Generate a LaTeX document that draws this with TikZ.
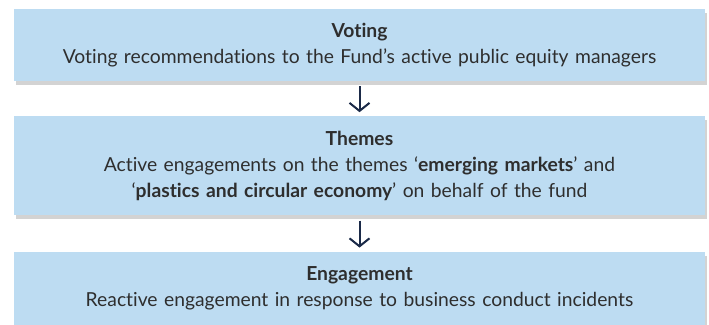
\documentclass[tikz,border=0pt]{standalone}
\usepackage{fontspec}
\setmainfont{Lato}[Ligatures={NoCommon}]
\usetikzlibrary{positioning,shadows,arrows.meta}
\definecolor{boxblue}{HTML}{BDDCF2}
\definecolor{textgray}{HTML}{2E2E2E}
\definecolor{arrownavy}{HTML}{1B2A48}
\begin{document}
\begin{tikzpicture}[x=1pt, y=1pt, font=\fontsize{19.3}{26}\selectfont]
    \tikzset{
      stage/.style={fill=boxblue, minimum width=691pt, text width=670pt,
        align=center, text=textgray, inner sep=0pt,
        drop shadow={shadow xshift=2pt, shadow yshift=-4pt, opacity=0.35, fill=gray}},
      flow/.style={draw=arrownavy, line width=2pt,
        -{Straight Barb[length=8pt, width=20pt, line width=2pt]}}
    }
    % Canvas
    \useasboundingbox (0,0) rectangle (709,-324);
    % Stages
    \node[stage, minimum height=72pt] (voting) at (359.5,-45)
      {\textbf{Voting}\\Voting recommendations to the Fund’s active public equity managers};
    \node[stage, minimum height=99pt, below=35pt of voting] (themes)
      {\textbf{Themes}\\Active engagements on the themes ‘\textbf{emerging markets}’ and\\
       ‘\textbf{plastics and circular economy}’ on behalf of the fund};
    \node[stage, minimum height=73pt, below=36pt of themes] (engagement)
      {\textbf{Engagement}\\Reactive engagement in response to business conduct incidents};
    % Arrows
    \draw[flow] ([yshift=-5pt]voting.south) -- ([yshift=4pt]themes.north);
    \draw[flow] ([yshift=-5pt]themes.south) -- ([yshift=4pt]engagement.north);
  \end{tikzpicture}
\end{document}
